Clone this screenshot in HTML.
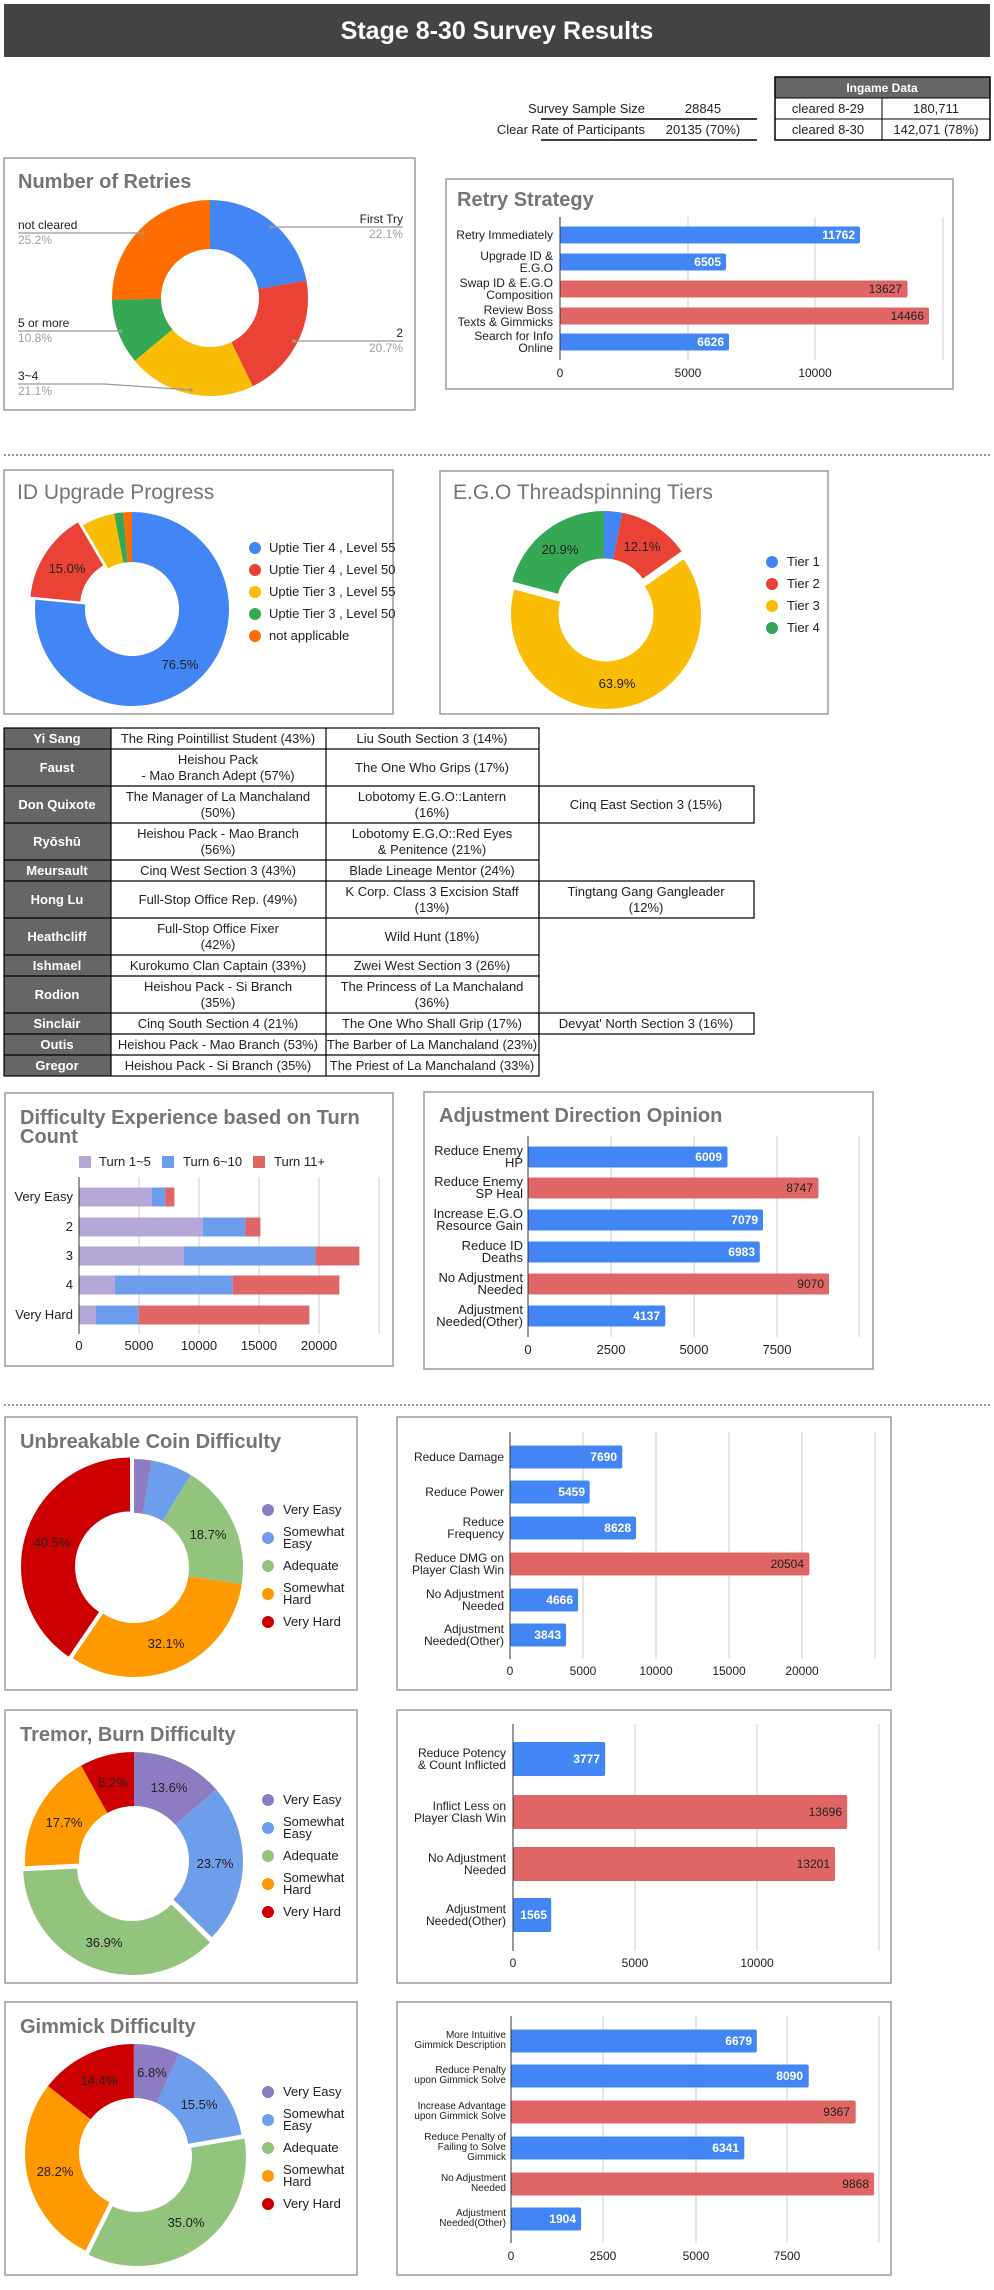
<!DOCTYPE html>
<html><head><meta charset="utf-8"><style>
html,body{margin:0;padding:0;background:#fff;}
svg{display:block;font-family:"Liberation Sans",Arial,sans-serif;}
.t{font-size:13px;fill:#222}
.s{font-size:12px;fill:#222}
.w{font-size:12px;fill:#fff;font-weight:bold}
.d{font-size:12px;fill:#222}
.tb{font-size:20px;font-weight:bold;fill:#757575}
.tn{font-size:21px;fill:#757575}
.box{fill:#fff;stroke:#9a9a9a;stroke-width:1.5}
.g{stroke:#ccc;stroke-width:1}
.ax{stroke:#333;stroke-width:1}
</style></head><body>
<svg width="994" height="2290" viewBox="0 0 994 2290" xmlns="http://www.w3.org/2000/svg">
<!-- Title -->
<rect x="4" y="4" width="986" height="53" fill="#434343"/>
<text x="497" y="39" text-anchor="middle" font-size="25" font-weight="bold" fill="#fff">Stage 8-30 Survey Results</text>

<!-- survey -->
<text class="t" x="645" y="113" text-anchor="end">Survey Sample Size</text>
<text class="t" x="703" y="113" text-anchor="middle">28845</text>
<line x1="541" y1="119" x2="757" y2="119" stroke="#000" stroke-width="1.5"/>
<text class="t" x="645" y="134" text-anchor="end">Clear Rate of Participants</text>
<text class="t" x="703" y="134" text-anchor="middle">20135 (70%)</text>
<line x1="541" y1="140" x2="757" y2="140" stroke="#000" stroke-width="1.5"/>
<rect x="775" y="77" width="215" height="21" fill="#666"/>
<text x="882" y="92" text-anchor="middle" font-size="12" font-weight="bold" fill="#fff">Ingame Data</text>
<rect x="775" y="77" width="215" height="63" fill="none" stroke="#000" stroke-width="1.5"/>
<line x1="775" y1="98" x2="990" y2="98" stroke="#000"/>
<line x1="775" y1="119" x2="990" y2="119" stroke="#000"/>
<line x1="882" y1="98" x2="882" y2="140" stroke="#000"/>
<text class="t" x="828" y="113" text-anchor="middle">cleared 8-29</text>
<text class="t" x="936" y="113" text-anchor="middle">180,711</text>
<text class="t" x="828" y="134" text-anchor="middle">cleared 8-30</text>
<text class="t" x="936" y="134" text-anchor="middle">142,071 (78%)</text>

<!-- Number of Retries -->
<rect class="box" x="4" y="158" width="411" height="252"/>
<text class="tb" x="18" y="188">Number of Retries</text>
<g fill="none" stroke-width="49" transform="rotate(-90 210 298)">
<circle cx="210" cy="298" r="73.5" stroke="#4285f4" stroke-dasharray="102.1 1000" stroke-dashoffset="0"/>
<circle cx="210" cy="298" r="73.5" stroke="#ea4335" stroke-dasharray="95.6 1000" stroke-dashoffset="-102.1"/>
<circle cx="210" cy="298" r="73.5" stroke="#fbbc04" stroke-dasharray="97.4 1000" stroke-dashoffset="-197.7"/>
<circle cx="210" cy="298" r="73.5" stroke="#34a853" stroke-dasharray="49.9 1000" stroke-dashoffset="-295.1"/>
<circle cx="210" cy="298" r="73.5" stroke="#ff6d01" stroke-dasharray="116.8 1000" stroke-dashoffset="-345"/>
</g>
<g stroke="#999" stroke-width="1.2" fill="none">
<polyline points="271,227 403,227"/><polyline points="294,341 403,341"/>
<polyline points="18,233 143,233"/><polyline points="18,331 121,331"/>
<polyline points="18,384 105,384 191,390"/>
</g>
<g fill="#999"><circle cx="271" cy="227" r="1.8"/><circle cx="294" cy="341" r="1.8"/><circle cx="143" cy="233" r="1.8"/><circle cx="121" cy="331" r="1.8"/><circle cx="191" cy="390" r="1.8"/></g>
<text class="s" x="403" y="223" text-anchor="end">First Try</text>
<text class="s" x="403" y="238" text-anchor="end" fill="#9e9e9e" style="fill:#9e9e9e">22.1%</text>
<text class="s" x="403" y="337" text-anchor="end">2</text>
<text class="s" x="403" y="352" text-anchor="end" style="fill:#9e9e9e">20.7%</text>
<text class="s" x="18" y="229">not cleared</text>
<text class="s" x="18" y="244" style="fill:#9e9e9e">25.2%</text>
<text class="s" x="18" y="327">5 or more</text>
<text class="s" x="18" y="342" style="fill:#9e9e9e">10.8%</text>
<text class="s" x="18" y="380">3~4</text>
<text class="s" x="18" y="395" style="fill:#9e9e9e">21.1%</text>

<!-- Retry Strategy -->
<rect class="box" x="446" y="179" width="507" height="210"/>
<text class="tb" x="457" y="206">Retry Strategy</text>
<line class="g" x1="688" y1="217" x2="688" y2="360"/><line class="g" x1="815" y1="217" x2="815" y2="360"/><line class="g" x1="943" y1="217" x2="943" y2="360"/>
<rect x="560" y="226.5" width="300" height="17" rx="2" fill="#4285f4"/>
<rect x="560" y="253.5" width="166" height="17" rx="2" fill="#4285f4"/>
<rect x="560" y="280.5" width="347.5" height="17" rx="2" fill="#e06666"/>
<rect x="560" y="307.5" width="369" height="17" rx="2" fill="#e06666"/>
<rect x="560" y="333.5" width="169" height="17" rx="2" fill="#4285f4"/>
<line class="ax" x1="560" y1="217" x2="560" y2="360"/>
<text class="w" x="855" y="239" text-anchor="end">11762</text>
<text class="w" x="721" y="266" text-anchor="end">6505</text>
<text class="d" x="902" y="293" text-anchor="end">13627</text>
<text class="d" x="924" y="320" text-anchor="end">14466</text>
<text class="w" x="724" y="346" text-anchor="end">6626</text>
<g class="s" text-anchor="end">
<text x="553" y="239">Retry Immediately</text>
<text x="553" y="260">Upgrade ID &amp;</text><text x="553" y="272">E.G.O</text>
<text x="553" y="287">Swap ID &amp; E.G.O</text><text x="553" y="299">Composition</text>
<text x="553" y="314">Review Boss</text><text x="553" y="326">Texts &amp; Gimmicks</text>
<text x="553" y="340">Search for Info</text><text x="553" y="352">Online</text>
</g>
<g class="s" text-anchor="middle"><text x="560" y="377">0</text><text x="688" y="377">5000</text><text x="815" y="377">10000</text></g>

<line x1="4" y1="455" x2="990" y2="455" stroke="#333" stroke-dasharray="2 2"/>

<!-- ID Upgrade -->
<rect class="box" x="4" y="470" width="389" height="244"/>
<text class="tn" x="17" y="499">ID Upgrade Progress</text>
<g fill="none" stroke-width="50">
<circle cx="132" cy="609" r="72" transform="rotate(-90 132 609)" stroke="#4285f4" stroke-dasharray="346.1 1000"/>
<g transform="translate(-5,-3)"><circle cx="132" cy="609" r="72" transform="rotate(-90 132 609)" stroke="#ea4335" stroke-dasharray="67.9 1000" stroke-dashoffset="-346.1"/></g>
<circle cx="132" cy="609" r="72" transform="rotate(-90 132 609)" stroke="#fbbc04" stroke-dasharray="24.9 1000" stroke-dashoffset="-414"/>
<circle cx="132" cy="609" r="72" transform="rotate(-90 132 609)" stroke="#34a853" stroke-dasharray="6.8 1000" stroke-dashoffset="-438.9"/>
<circle cx="132" cy="609" r="72" transform="rotate(-90 132 609)" stroke="#ff6d01" stroke-dasharray="6.8 1000" stroke-dashoffset="-445.7"/>
</g>
<text class="t" x="67" y="573" text-anchor="middle">15.0%</text>
<text class="t" x="180" y="669" text-anchor="middle">76.5%</text>
<circle cx="255" cy="548" r="6" fill="#4285f4"/><text class="t" x="269" y="552">Uptie Tier 4 , Level 55</text>
<circle cx="255" cy="570" r="6" fill="#ea4335"/><text class="t" x="269" y="574">Uptie Tier 4 , Level 50</text>
<circle cx="255" cy="592" r="6" fill="#fbbc04"/><text class="t" x="269" y="596">Uptie Tier 3 , Level 55</text>
<circle cx="255" cy="614" r="6" fill="#34a853"/><text class="t" x="269" y="618">Uptie Tier 3 , Level 50</text>
<circle cx="255" cy="636" r="6" fill="#ff6d01"/><text class="t" x="269" y="640">not applicable</text>

<!-- EGO -->
<rect class="box" x="440" y="471" width="388" height="243"/>
<text class="tn" x="453" y="499">E.G.O Threadspinning Tiers</text>
<g fill="none" stroke-width="47.5">
<circle cx="604" cy="606" r="71.25" transform="rotate(-90 604 606)" stroke="#4285f4" stroke-dasharray="13.9 1000"/>
<circle cx="604" cy="606" r="71.25" transform="rotate(-90 604 606)" stroke="#ea4335" stroke-dasharray="54.2 1000" stroke-dashoffset="-13.9"/>
<g transform="translate(2,8)"><circle cx="604" cy="606" r="71.25" transform="rotate(-90 604 606)" stroke="#fbbc04" stroke-dasharray="286.1 1000" stroke-dashoffset="-68.1"/></g>
<circle cx="604" cy="606" r="71.25" transform="rotate(-90 604 606)" stroke="#34a853" stroke-dasharray="93.6 1000" stroke-dashoffset="-354.2"/>
</g>
<text class="t" x="560" y="554" text-anchor="middle">20.9%</text>
<text class="t" x="642" y="551" text-anchor="middle">12.1%</text>
<text class="t" x="617" y="688" text-anchor="middle">63.9%</text>
<circle cx="772" cy="562" r="6" fill="#4285f4"/><text class="t" x="787" y="566">Tier 1</text>
<circle cx="772" cy="584" r="6" fill="#ea4335"/><text class="t" x="787" y="588">Tier 2</text>
<circle cx="772" cy="606" r="6" fill="#fbbc04"/><text class="t" x="787" y="610">Tier 3</text>
<circle cx="772" cy="628" r="6" fill="#34a853"/><text class="t" x="787" y="632">Tier 4</text>

<!-- Table -->
<g>
<rect x="4" y="728" width="107" height="348" fill="#666"/>
<g fill="none" stroke="#000" stroke-width="1.2">
<rect x="4" y="728" width="535" height="348"/>
<line x1="111" y1="728" x2="111" y2="1076"/><line x1="326" y1="728" x2="326" y2="1076"/>
<line x1="4" y1="749" x2="539" y2="749"/><line x1="4" y1="786" x2="539" y2="786"/><line x1="4" y1="823" x2="539" y2="823"/>
<line x1="4" y1="860" x2="539" y2="860"/><line x1="4" y1="881" x2="539" y2="881"/><line x1="4" y1="918" x2="539" y2="918"/>
<line x1="4" y1="955" x2="539" y2="955"/><line x1="4" y1="976" x2="539" y2="976"/><line x1="4" y1="1013" x2="539" y2="1013"/>
<line x1="4" y1="1034" x2="539" y2="1034"/><line x1="4" y1="1055" x2="539" y2="1055"/>
<rect x="539" y="786" width="215" height="37"/><rect x="539" y="881" width="215" height="37"/><rect x="539" y="1013" width="215" height="21"/>
</g>
<g font-size="13" font-weight="bold" fill="#fff" text-anchor="middle">
<text x="57" y="743">Yi Sang</text><text x="57" y="772">Faust</text><text x="57" y="809">Don Quixote</text><text x="57" y="846">Ryōshū</text>
<text x="57" y="875">Meursault</text><text x="57" y="904">Hong Lu</text><text x="57" y="941">Heathcliff</text><text x="57" y="970">Ishmael</text>
<text x="57" y="999">Rodion</text><text x="57" y="1028">Sinclair</text><text x="57" y="1049">Outis</text><text x="57" y="1070">Gregor</text>
</g>
<g class="t" text-anchor="middle">
<text x="218" y="743">The Ring Pointillist Student (43%)</text><text x="432" y="743">Liu South Section 3 (14%)</text>
<text x="218" y="764">Heishou Pack</text><text x="218" y="780">- Mao Branch Adept (57%)</text><text x="432" y="772">The One Who Grips (17%)</text>
<text x="218" y="801">The Manager of La Manchaland</text><text x="218" y="817">(50%)</text><text x="432" y="801">Lobotomy E.G.O::Lantern</text><text x="432" y="817">(16%)</text><text x="646" y="809">Cinq East Section 3 (15%)</text>
<text x="218" y="838">Heishou Pack - Mao Branch</text><text x="218" y="854">(56%)</text><text x="432" y="838">Lobotomy E.G.O::Red Eyes</text><text x="432" y="854">&amp; Penitence (21%)</text>
<text x="218" y="875">Cinq West Section 3 (43%)</text><text x="432" y="875">Blade Lineage Mentor (24%)</text>
<text x="218" y="904">Full-Stop Office Rep. (49%)</text><text x="432" y="896">K Corp. Class 3 Excision Staff</text><text x="432" y="912">(13%)</text><text x="646" y="896">Tingtang Gang Gangleader</text><text x="646" y="912">(12%)</text>
<text x="218" y="933">Full-Stop Office Fixer</text><text x="218" y="949">(42%)</text><text x="432" y="941">Wild Hunt (18%)</text>
<text x="218" y="970">Kurokumo Clan Captain (33%)</text><text x="432" y="970">Zwei West Section 3 (26%)</text>
<text x="218" y="991">Heishou Pack - Si Branch</text><text x="218" y="1007">(35%)</text><text x="432" y="991">The Princess of La Manchaland</text><text x="432" y="1007">(36%)</text>
<text x="218" y="1028">Cinq South Section 4 (21%)</text><text x="432" y="1028">The One Who Shall Grip (17%)</text><text x="646" y="1028">Devyat' North Section 3 (16%)</text>
<text x="218" y="1049">Heishou Pack - Mao Branch (53%)</text><text x="432" y="1049">The Barber of La Manchaland (23%)</text>
<text x="218" y="1070">Heishou Pack - Si Branch (35%)</text><text x="432" y="1070">The Priest of La Manchaland (33%)</text>
</g>
</g>

<!-- Difficulty -->
<rect class="box" x="5" y="1093" width="388" height="273"/>
<text class="tb" x="20" y="1124">Difficulty Experience based on Turn</text>
<text class="tb" x="20" y="1143">Count</text>
<rect x="79" y="1156" width="12" height="12" fill="#b4a7d6"/><text class="t" x="99" y="1166">Turn 1~5</text>
<rect x="162" y="1156" width="12" height="12" fill="#6d9eeb"/><text class="t" x="183" y="1166">Turn 6~10</text>
<rect x="253" y="1156" width="12" height="12" fill="#e06666"/><text class="t" x="274" y="1166">Turn 11+</text>
<g class="g"><line x1="139" y1="1177" x2="139" y2="1334"/><line x1="199" y1="1177" x2="199" y2="1334"/><line x1="259" y1="1177" x2="259" y2="1334"/><line x1="319" y1="1177" x2="319" y2="1334"/><line x1="379" y1="1177" x2="379" y2="1334"/></g>
<g>
<rect x="79" y="1187.5" width="72.7" height="19" fill="#b4a7d6"/><rect x="151.7" y="1187.5" width="13.7" height="19" fill="#6d9eeb"/><rect x="165.4" y="1187.5" width="9" height="19" fill="#e06666"/>
<rect x="79" y="1217.5" width="123.7" height="19" fill="#b4a7d6"/><rect x="202.7" y="1217.5" width="42.7" height="19" fill="#6d9eeb"/><rect x="245.4" y="1217.5" width="15" height="19" fill="#e06666"/>
<rect x="79" y="1246.5" width="104.7" height="19" fill="#b4a7d6"/><rect x="183.7" y="1246.5" width="131.7" height="19" fill="#6d9eeb"/><rect x="315.4" y="1246.5" width="44" height="19" fill="#e06666"/>
<rect x="79" y="1275.5" width="35.7" height="19" fill="#b4a7d6"/><rect x="114.7" y="1275.5" width="118" height="19" fill="#6d9eeb"/><rect x="232.7" y="1275.5" width="106.7" height="19" fill="#e06666"/>
<rect x="79" y="1305.5" width="16.7" height="19" fill="#b4a7d6"/><rect x="95.7" y="1305.5" width="43" height="19" fill="#6d9eeb"/><rect x="138.7" y="1305.5" width="170.7" height="19" fill="#e06666"/>
</g>
<line class="ax" x1="79" y1="1177" x2="79" y2="1334"/>
<g class="t" text-anchor="end"><text x="73" y="1201">Very Easy</text><text x="73" y="1231">2</text><text x="73" y="1260">3</text><text x="73" y="1289">4</text><text x="73" y="1319">Very Hard</text></g>
<g class="t" text-anchor="middle"><text x="79" y="1350">0</text><text x="139" y="1350">5000</text><text x="199" y="1350">10000</text><text x="259" y="1350">15000</text><text x="319" y="1350">20000</text></g>

<!-- Adjustment -->
<rect class="box" x="424" y="1092" width="449" height="277"/>
<text class="tb" x="439" y="1122">Adjustment Direction Opinion</text>
<g class="g"><line x1="611" y1="1136" x2="611" y2="1337"/><line x1="694" y1="1136" x2="694" y2="1337"/><line x1="777" y1="1136" x2="777" y2="1337"/><line x1="859" y1="1136" x2="859" y2="1337"/></g>
<rect x="528" y="1146.5" width="199.5" height="21" rx="2" fill="#4285f4"/>
<rect x="528" y="1177.5" width="290.4" height="21" rx="2" fill="#e06666"/>
<rect x="528" y="1209.5" width="235" height="21" rx="2" fill="#4285f4"/>
<rect x="528" y="1241.5" width="231.8" height="21" rx="2" fill="#4285f4"/>
<rect x="528" y="1273.5" width="301.1" height="21" rx="2" fill="#e06666"/>
<rect x="528" y="1305.5" width="137.3" height="21" rx="2" fill="#4285f4"/>
<line class="ax" x1="528" y1="1136" x2="528" y2="1337"/>
<text class="w" x="722" y="1161" text-anchor="end">6009</text>
<text class="d" x="813" y="1192" text-anchor="end">8747</text>
<text class="w" x="758" y="1224" text-anchor="end">7079</text>
<text class="w" x="755" y="1256" text-anchor="end">6983</text>
<text class="d" x="824" y="1288" text-anchor="end">9070</text>
<text class="w" x="660" y="1320" text-anchor="end">4137</text>
<g class="t" text-anchor="end">
<text x="523" y="1155">Reduce Enemy</text><text x="523" y="1167">HP</text>
<text x="523" y="1186">Reduce Enemy</text><text x="523" y="1198">SP Heal</text>
<text x="523" y="1218">Increase E.G.O</text><text x="523" y="1230">Resource Gain</text>
<text x="523" y="1250">Reduce ID</text><text x="523" y="1262">Deaths</text>
<text x="523" y="1282">No Adjustment</text><text x="523" y="1294">Needed</text>
<text x="523" y="1314">Adjustment</text><text x="523" y="1326">Needed(Other)</text>
</g>
<g class="t" text-anchor="middle"><text x="528" y="1354">0</text><text x="611" y="1354">2500</text><text x="694" y="1354">5000</text><text x="777" y="1354">7500</text></g>

<line x1="4" y1="1405" x2="990" y2="1405" stroke="#333" stroke-dasharray="2 2"/>

<!-- Unbreakable -->
<rect class="box" x="5" y="1417" width="352" height="273"/>
<text class="tb" x="20" y="1448">Unbreakable Coin Difficulty</text>
<g fill="none" stroke-width="54">
<circle cx="134" cy="1568" r="82" transform="rotate(-90 134 1568)" stroke="#8e7cc3" stroke-dasharray="13.4 1000"/>
<circle cx="134" cy="1568" r="82" transform="rotate(-90 134 1568)" stroke="#6d9eeb" stroke-dasharray="31.4 1000" stroke-dashoffset="-13.4"/>
<circle cx="134" cy="1568" r="82" transform="rotate(-90 134 1568)" stroke="#93c47d" stroke-dasharray="96.3 1000" stroke-dashoffset="-44.8"/>
<circle cx="134" cy="1568" r="82" transform="rotate(-90 134 1568)" stroke="#ff9900" stroke-dasharray="165.4 1000" stroke-dashoffset="-141.1"/>
<g transform="translate(-4,-1.5)"><circle cx="134" cy="1568" r="82" transform="rotate(-90 134 1568)" stroke="#cc0000" stroke-dasharray="208.9 1000" stroke-dashoffset="-306.5"/></g>
</g>
<text class="t" x="52" y="1547" text-anchor="middle">40.5%</text>
<text class="t" x="208" y="1539" text-anchor="middle">18.7%</text>
<text class="t" x="166" y="1648" text-anchor="middle">32.1%</text>
<g class="t">
<circle cx="268" cy="1510" r="6" fill="#8e7cc3"/><text x="283" y="1514">Very Easy</text>
<circle cx="268" cy="1538" r="6" fill="#6d9eeb"/><text x="283" y="1536">Somewhat</text><text x="283" y="1548">Easy</text>
<circle cx="268" cy="1566" r="6" fill="#93c47d"/><text x="283" y="1570">Adequate</text>
<circle cx="268" cy="1594" r="6" fill="#ff9900"/><text x="283" y="1592">Somewhat</text><text x="283" y="1604">Hard</text>
<circle cx="268" cy="1622" r="6" fill="#cc0000"/><text x="283" y="1626">Very Hard</text>
</g>
<rect class="box" x="397" y="1417" width="494" height="273"/>
<g class="g"><line x1="583" y1="1432" x2="583" y2="1659"/><line x1="656" y1="1432" x2="656" y2="1659"/><line x1="729" y1="1432" x2="729" y2="1659"/><line x1="802" y1="1432" x2="802" y2="1659"/><line x1="875" y1="1432" x2="875" y2="1659"/></g>
<rect x="510" y="1445.5" width="112.3" height="23" rx="2" fill="#4285f4"/>
<rect x="510" y="1480.5" width="79.7" height="23" rx="2" fill="#4285f4"/>
<rect x="510" y="1516.5" width="126" height="23" rx="2" fill="#4285f4"/>
<rect x="510" y="1552.5" width="299.4" height="23" rx="2" fill="#e06666"/>
<rect x="510" y="1588.5" width="68.1" height="23" rx="2" fill="#4285f4"/>
<rect x="510" y="1623.5" width="56.1" height="23" rx="2" fill="#4285f4"/>
<line class="ax" x1="510" y1="1432" x2="510" y2="1659"/>
<text class="w" x="617" y="1461" text-anchor="end">7690</text>
<text class="w" x="585" y="1496" text-anchor="end">5459</text>
<text class="w" x="631" y="1532" text-anchor="end">8628</text>
<text class="d" x="804" y="1568" text-anchor="end">20504</text>
<text class="w" x="573" y="1604" text-anchor="end">4666</text>
<text class="w" x="561" y="1639" text-anchor="end">3843</text>
<g class="s" text-anchor="end">
<text x="504" y="1461">Reduce Damage</text>
<text x="504" y="1496">Reduce Power</text>
<text x="504" y="1526">Reduce</text><text x="504" y="1538">Frequency</text>
<text x="504" y="1562">Reduce DMG on</text><text x="504" y="1574">Player Clash Win</text>
<text x="504" y="1598">No Adjustment</text><text x="504" y="1610">Needed</text>
<text x="504" y="1633">Adjustment</text><text x="504" y="1645">Needed(Other)</text>
</g>
<g class="s" text-anchor="middle"><text x="510" y="1675">0</text><text x="583" y="1675">5000</text><text x="656" y="1675">10000</text><text x="729" y="1675">15000</text><text x="802" y="1675">20000</text></g>

<!-- Tremor -->
<rect class="box" x="5" y="1710" width="352" height="273"/>
<text class="tb" x="20" y="1741">Tremor, Burn Difficulty</text>
<g fill="none" stroke-width="54">
<circle cx="134" cy="1861" r="82" transform="rotate(-90 134 1861)" stroke="#8e7cc3" stroke-dasharray="70.1 1000"/>
<circle cx="134" cy="1861" r="82" transform="rotate(-90 134 1861)" stroke="#6d9eeb" stroke-dasharray="122.1 1000" stroke-dashoffset="-70.1"/>
<g transform="translate(-2,5)"><circle cx="134" cy="1861" r="82" transform="rotate(-90 134 1861)" stroke="#93c47d" stroke-dasharray="190.1 1000" stroke-dashoffset="-192.2"/></g>
<circle cx="134" cy="1861" r="82" transform="rotate(-90 134 1861)" stroke="#ff9900" stroke-dasharray="91.2 1000" stroke-dashoffset="-382.3"/>
<circle cx="134" cy="1861" r="82" transform="rotate(-90 134 1861)" stroke="#cc0000" stroke-dasharray="42.2 1000" stroke-dashoffset="-473.5"/>
</g>
<text class="t" x="169" y="1792" text-anchor="middle">13.6%</text>
<text class="t" x="215" y="1868" text-anchor="middle">23.7%</text>
<text class="t" x="104" y="1947" text-anchor="middle">36.9%</text>
<text class="t" x="64" y="1827" text-anchor="middle">17.7%</text>
<text class="t" x="113" y="1787" text-anchor="middle">8.2%</text>
<g class="t">
<circle cx="268" cy="1800" r="6" fill="#8e7cc3"/><text x="283" y="1804">Very Easy</text>
<circle cx="268" cy="1828" r="6" fill="#6d9eeb"/><text x="283" y="1826">Somewhat</text><text x="283" y="1838">Easy</text>
<circle cx="268" cy="1856" r="6" fill="#93c47d"/><text x="283" y="1860">Adequate</text>
<circle cx="268" cy="1884" r="6" fill="#ff9900"/><text x="283" y="1882">Somewhat</text><text x="283" y="1894">Hard</text>
<circle cx="268" cy="1912" r="6" fill="#cc0000"/><text x="283" y="1916">Very Hard</text>
</g>
<rect class="box" x="397" y="1710" width="494" height="273"/>
<g class="g"><line x1="635" y1="1724" x2="635" y2="1951"/><line x1="757" y1="1724" x2="757" y2="1951"/><line x1="879" y1="1724" x2="879" y2="1951"/></g>
<rect x="513" y="1742" width="92.2" height="34" rx="2" fill="#4285f4"/>
<rect x="513" y="1795" width="334.2" height="34" rx="2" fill="#e06666"/>
<rect x="513" y="1847" width="322.1" height="34" rx="2" fill="#e06666"/>
<rect x="513" y="1898" width="38.2" height="34" rx="2" fill="#4285f4"/>
<line class="ax" x1="513" y1="1724" x2="513" y2="1951"/>
<text class="w" x="600" y="1763" text-anchor="end">3777</text>
<text class="d" x="842" y="1816" text-anchor="end">13696</text>
<text class="d" x="830" y="1868" text-anchor="end">13201</text>
<text class="w" x="547" y="1919" text-anchor="end">1565</text>
<g class="s" text-anchor="end">
<text x="506" y="1757">Reduce Potency</text><text x="506" y="1769">&amp; Count Inflicted</text>
<text x="506" y="1810">Inflict Less on</text><text x="506" y="1822">Player Clash Win</text>
<text x="506" y="1862">No Adjustment</text><text x="506" y="1874">Needed</text>
<text x="506" y="1913">Adjustment</text><text x="506" y="1925">Needed(Other)</text>
</g>
<g class="s" text-anchor="middle"><text x="513" y="1967">0</text><text x="635" y="1967">5000</text><text x="757" y="1967">10000</text></g>

<!-- Gimmick -->
<rect class="box" x="5" y="2002" width="352" height="273"/>
<text class="tb" x="20" y="2033">Gimmick Difficulty</text>
<g fill="none" stroke-width="54">
<circle cx="134" cy="2153" r="82" transform="rotate(-90 134 2153)" stroke="#8e7cc3" stroke-dasharray="35 1000"/>
<circle cx="134" cy="2153" r="82" transform="rotate(-90 134 2153)" stroke="#6d9eeb" stroke-dasharray="79.9 1000" stroke-dashoffset="-35"/>
<g transform="translate(3,4)"><circle cx="134" cy="2153" r="82" transform="rotate(-90 134 2153)" stroke="#93c47d" stroke-dasharray="180.3 1000" stroke-dashoffset="-114.9"/></g>
<circle cx="134" cy="2153" r="82" transform="rotate(-90 134 2153)" stroke="#ff9900" stroke-dasharray="145.3 1000" stroke-dashoffset="-295.2"/>
<circle cx="134" cy="2153" r="82" transform="rotate(-90 134 2153)" stroke="#cc0000" stroke-dasharray="74.4 1000" stroke-dashoffset="-440.5"/>
</g>
<text class="t" x="152" y="2077" text-anchor="middle">6.8%</text>
<text class="t" x="99" y="2085" text-anchor="middle">14.4%</text>
<text class="t" x="199" y="2109" text-anchor="middle">15.5%</text>
<text class="t" x="55" y="2176" text-anchor="middle">28.2%</text>
<text class="t" x="186" y="2227" text-anchor="middle">35.0%</text>
<g class="t">
<circle cx="268" cy="2092" r="6" fill="#8e7cc3"/><text x="283" y="2096">Very Easy</text>
<circle cx="268" cy="2120" r="6" fill="#6d9eeb"/><text x="283" y="2118">Somewhat</text><text x="283" y="2130">Easy</text>
<circle cx="268" cy="2148" r="6" fill="#93c47d"/><text x="283" y="2152">Adequate</text>
<circle cx="268" cy="2176" r="6" fill="#ff9900"/><text x="283" y="2174">Somewhat</text><text x="283" y="2186">Hard</text>
<circle cx="268" cy="2204" r="6" fill="#cc0000"/><text x="283" y="2208">Very Hard</text>
</g>
<rect class="box" x="397" y="2002" width="494" height="273"/>
<g class="g"><line x1="603" y1="2016" x2="603" y2="2243"/><line x1="696" y1="2016" x2="696" y2="2243"/><line x1="787" y1="2016" x2="787" y2="2243"/><line x1="879" y1="2016" x2="879" y2="2243"/></g>
<rect x="511" y="2029.5" width="245.8" height="23" rx="2" fill="#4285f4"/>
<rect x="511" y="2064.5" width="297.7" height="23" rx="2" fill="#4285f4"/>
<rect x="511" y="2100.5" width="344.7" height="23" rx="2" fill="#e06666"/>
<rect x="511" y="2136.5" width="233.3" height="23" rx="2" fill="#4285f4"/>
<rect x="511" y="2172.5" width="363.1" height="23" rx="2" fill="#e06666"/>
<rect x="511" y="2207.5" width="70.1" height="23" rx="2" fill="#4285f4"/>
<line class="ax" x1="511" y1="2016" x2="511" y2="2243"/>
<text class="w" x="752" y="2045" text-anchor="end">6679</text>
<text class="w" x="803" y="2080" text-anchor="end">8090</text>
<text class="d" x="850" y="2116" text-anchor="end">9367</text>
<text class="w" x="739" y="2152" text-anchor="end">6341</text>
<text class="d" x="869" y="2188" text-anchor="end">9868</text>
<text class="w" x="576" y="2223" text-anchor="end">1904</text>
<g font-size="10" fill="#222" text-anchor="end">
<text x="506" y="2038">More Intuitive</text><text x="506" y="2048">Gimmick Description</text>
<text x="506" y="2073">Reduce Penalty</text><text x="506" y="2083">upon Gimmick Solve</text>
<text x="506" y="2109">Increase Advantage</text><text x="506" y="2119">upon Gimmick Solve</text>
<text x="506" y="2140">Reduce Penalty of</text><text x="506" y="2150">Failing to Solve</text><text x="506" y="2160">Gimmick</text>
<text x="506" y="2181">No Adjustment</text><text x="506" y="2191">Needed</text>
<text x="506" y="2216">Adjustment</text><text x="506" y="2226">Needed(Other)</text>
</g>
<g class="s" text-anchor="middle"><text x="511" y="2260">0</text><text x="603" y="2260">2500</text><text x="696" y="2260">5000</text><text x="787" y="2260">7500</text></g>
</svg>
</body></html>
